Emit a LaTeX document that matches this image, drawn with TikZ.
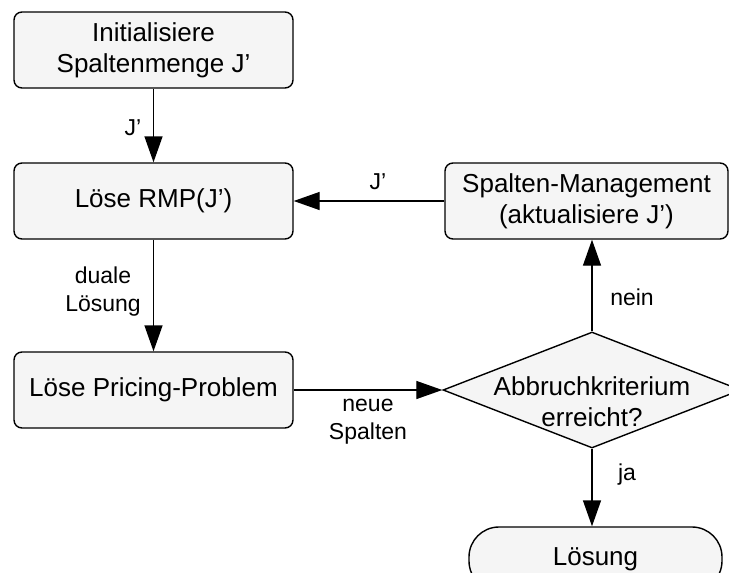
\documentclass[tikz,border=0pt]{standalone}
\usepackage{fontspec}
\setmainfont{Liberation Sans}
\usetikzlibrary{shapes.geometric,arrows.meta}
\definecolor{boxfill}{HTML}{F5F5F5}
\tikzset{
  flow/.style={draw=black, line width=1.4pt, fill=boxfill, rounded corners=8pt,
    minimum width=279pt, minimum height=76pt, inner sep=0pt, align=center,
    font=\fontsize{26}{31}\selectfont},
  decision/.style={draw=black, line width=1.4pt, fill=boxfill, shape=diamond,
    minimum width=298pt, minimum height=116pt, inner sep=0pt},
  terminal/.style={draw=black, line width=1.4pt, fill=boxfill, rounded corners=30pt,
    minimum width=253pt, minimum height=64pt, inner sep=0pt,
    font=\fontsize{26}{31}\selectfont},
  maintext/.style={align=center, inner sep=0pt, font=\fontsize{26}{31}\selectfont},
  edgelabel/.style={align=center, inner sep=0pt, font=\fontsize{23}{28}\selectfont},
  conn/.style={line width=1.4pt, -{Triangle[length=26pt,width=18pt]}}
}
\begin{document}
\begin{tikzpicture}[x=1pt,y=-1pt]
\useasboundingbox (0,0) rectangle (729,573);
% process boxes
\node[flow] (init) at (153.5,50) {Initialisiere\\Spaltenmenge J’};
\node[flow] (rmp) at (153.5,201) {Löse RMP(J’)};
\node[flow] (pricing) at (153.5,390) {Löse Pricing-Problem};
\node[flow, minimum width=283pt] (mgmt) at (586.5,201) {Spalten-Management\\(aktualisiere J’)};
% decision and end
\node[decision] (stop) at (592,390) {};
\node[maintext] (stoptext) at (592,402) {Abbruchkriterium\\erreicht?};
\node[terminal] (result) at (595.5,559) {Lösung};
% connectors
\draw[conn] (init) -- (rmp);
\draw[conn] (rmp) -- (pricing);
\draw[conn] (pricing) -- (stop);
\draw[conn] (stop.north) -- (stop.north |- mgmt.south);
\draw[conn] (mgmt) -- (rmp);
\draw[conn] (stop.south) -- (stop.south |- result.north);
% connector labels
\node[edgelabel] (l1) at (133,128) {J’};
\node[edgelabel] (l2) at (103,292) {duale\\Lösung};
\node[edgelabel] (l3) at (368,422) {neue\\Spalten};
\node[edgelabel] (l4) at (378,182) {J’};
\node[edgelabel] (l5) at (632,297) {nein};
\node[edgelabel] (l6) at (627,475) {ja};
\end{tikzpicture}
\end{document}
